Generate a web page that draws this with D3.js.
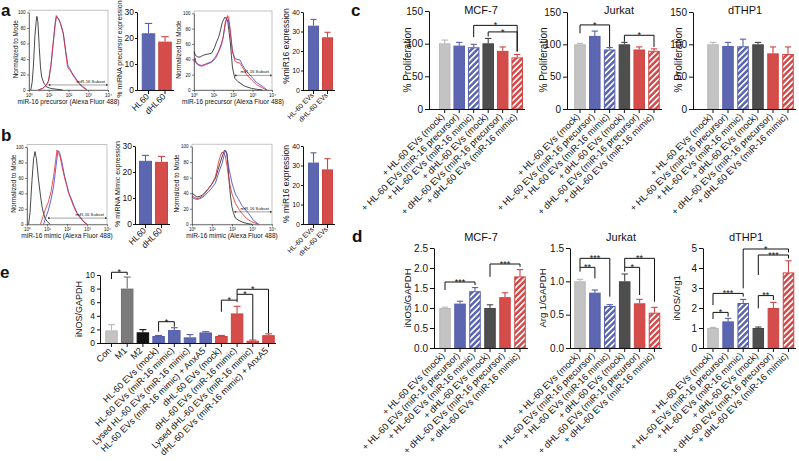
<!DOCTYPE html>
<html><head><meta charset="utf-8">
<script src="https://cdn.jsdelivr.net/npm/d3@7"></script>
<style>
body{margin:0;background:#fff}
svg{display:block}
text{font-family:"Liberation Sans",Arial,Helvetica,sans-serif;fill:#111}
</style>
</head><body>
<svg id="chart" width="799" height="461"></svg>
<script>
// ================= DATA =================
// Panel a/b flow histograms: [decade (log10 units from axis start), % of mode]
const histTickLabels = ["10⁰","10¹","10²","10³","10⁴"];
const histYTicks = [0,20,40,60,80,100];
const aPrecCtrl = [[0.09,0],[0.16,10],[0.22,30],[0.3,70],[0.36,88],[0.4,95],[0.45,88],[0.52,55],[0.58,30],[0.64,17],[0.75,9],[0.89,4],[1.1,2],[1.4,1],[1.7,0]];
const aPrecHL60 = [[0.5,0],[0.75,3],[0.9,7],[1.0,13],[1.12,33],[1.25,66],[1.33,88],[1.38,96],[1.43,94],[1.5,92],[1.6,86],[1.74,73],[1.86,50],[1.97,32],[2.08,27],[2.18,22],[2.32,17],[2.5,10],[2.7,5],[2.95,0]];
const aPrecdHL60 = [[0.45,0],[0.7,2],[0.85,6],[0.98,11],[1.1,30],[1.23,63],[1.33,85],[1.4,95],[1.45,93],[1.52,90],[1.6,85],[1.74,72],[1.85,50],[1.95,30],[2.05,26],[2.16,22],[2.3,16],[2.5,9],[2.7,4],[2.92,0]];
const aEVCtrl = [[0,50],[0.08,45],[0.2,43],[0.31,43],[0.45,45],[0.56,46],[0.75,47],[0.9,48],[1.05,55],[1.16,63],[1.25,68],[1.33,75],[1.45,88],[1.5,91],[1.59,95],[1.65,93],[1.73,90],[1.8,75],[1.85,65],[1.92,45],[1.97,30],[2.05,20],[2.1,15],[2.25,11],[2.36,9],[2.6,5],[2.96,2],[3.2,1],[3.5,0]];
const aEVHL60 = [[0,37],[0.05,42],[0.1,36],[0.25,33],[0.4,32],[0.6,34],[0.9,37],[1.1,43],[1.25,50],[1.4,60],[1.5,69],[1.6,85],[1.7,95],[1.75,93],[1.85,78],[1.97,51],[2.1,41],[2.2,40],[2.36,39],[2.5,32],[2.7,24],[2.96,17],[3.2,10],[3.5,5],[3.75,0]];
const aEVdHL60 = [[0,38],[0.05,41],[0.1,35],[0.25,32],[0.4,31],[0.6,33],[0.9,36],[1.1,41],[1.25,49],[1.4,58],[1.5,70],[1.6,88],[1.72,97],[1.78,95],[1.87,75],[1.97,50],[2.1,38],[2.2,36],[2.36,35],[2.53,28],[2.7,20],[2.96,13],[3.2,7],[3.5,3],[3.7,0]];
const bMimCtrl = [[0.08,0],[0.15,15],[0.25,57],[0.33,85],[0.4,94],[0.47,85],[0.58,57],[0.67,38],[0.75,23],[0.83,14],[0.9,8],[1.0,4],[1.15,0]];
const bMimHL60 = [[0.83,0],[0.95,10],[1.07,18],[1.2,32],[1.33,49],[1.45,75],[1.53,92],[1.58,95],[1.63,93],[1.75,80],[1.88,62],[2.0,50],[2.1,40],[2.2,34],[2.35,24],[2.5,15],[2.67,9],[2.85,3],[3.0,0]];
const bMimdHL60 = [[0.67,0],[0.8,10],[0.9,18],[1.07,29],[1.2,42],[1.33,62],[1.43,82],[1.5,96],[1.56,93],[1.65,88],[1.75,75],[1.88,60],[2.0,49],[2.08,40],[2.17,34],[2.33,23],[2.5,14],[2.67,8],[2.85,3],[3.0,0]];
const bEVCtrl = [[0,40],[0.1,38],[0.25,35],[0.4,36],[0.5,37],[0.65,41],[0.83,46],[1.0,52],[1.17,59],[1.3,70],[1.42,80],[1.52,88],[1.62,95],[1.68,94],[1.75,91],[1.8,75],[1.87,51],[1.93,35],[2.0,22],[2.08,14],[2.17,8],[2.35,5],[2.5,3],[2.75,1],[3.0,0]];
const bEVHL60 = [[0,35],[0.1,33],[0.25,32],[0.4,33],[0.6,36],[0.83,42],[1.0,47],[1.17,53],[1.33,66],[1.5,78],[1.6,88],[1.67,95],[1.72,93],[1.83,74],[1.92,63],[2.0,53],[2.17,39],[2.33,32],[2.5,24],[2.83,14],[3.08,5],[3.33,0]];
const bEVdHL60 = [[0,37],[0.1,35],[0.25,33],[0.4,34],[0.6,38],[0.83,46],[1.0,52],[1.17,61],[1.33,80],[1.42,88],[1.5,93],[1.58,91],[1.67,88],[1.75,75],[1.83,61],[1.92,48],[2.0,39],[2.17,27],[2.33,20],[2.5,14],[2.75,7],[3.0,3],[3.33,0]];
// gates: [start decade, end decade, level %]
const aPrecGate = [1.0, 4.0, 6.5];
const aEVGate = [2.1, 4.0, 19];
const bMimGate = [1.05, 4.0, 8];
const bEVGate = [2.13, 4.0, 16];

// Panel a/b bar charts
const cellCats = ["HL60","dHL60"];
const evCats = ["HL-60 EVs","dHL-60 EVs"];
const aPrecMean = [21.8, 18.6], aPrecSem = [3.8, 1.9];
const aEVMean = [33, 27], aEVSem = [3.2, 2.6];
const bMimMean = [24.3, 23.9], bMimSem = [2.1, 2.1];
const bEVMean = [31.5, 28], bEVSem = [5, 5.5];
const abTicks30 = [0,10,20,30], abTicks40 = [0,10,20,30,40];

// Panel c/d
const cdCats = ["+ HL-60 EVs (mock)","+ HL-60 EVs (miR-16 precursor)","+ HL-60 EVs (miR-16 mimic)","+ dHL-60 EVs (mock)","+ dHL-60 EVs (miR-16 precursor)","+ dHL-60 EVs (miR-16 mimic)"];
const cdStyles = ["lgrey","blue","blueH","dgrey","red","redH"];
const cMCF7Mean = [100.5, 97, 94.5, 100.5, 89, 79], cMCF7Sem = [5, 5, 4.5, 7.5, 6, 4.5];
const cJurkatMean = [100, 113, 92, 100, 92, 90], cJurkatSem = [1.5, 7.5, 3, 3, 4, 3];
const cTHP1Mean = [100, 97.5, 97, 100, 86, 85], cTHP1Sem = [3, 5.5, 11, 3, 10, 11];
const cTicks = [0,50,100,150];
// significance: [from bar, to bar, bracket level, left leg end, right leg end, label]
const cMCF7Sig = [[2,5,128,110,88,"*"],[3,5,118,111,88,"*"]];
const cJurkatSig = [[0,2,130,117,96,"*"],[3,5,114,104,96,"*"]];
const dMCF7Mean = [1.0, 1.11, 1.42, 1.0, 1.27, 1.79], dMCF7Sem = [0.02, 0.06, 0.09, 0.08, 0.11, 0.17];
const dJurkatMean = [1.0, 0.83, 0.63, 1.0, 0.67, 0.53], dJurkatSem = [0.03, 0.04, 0.02, 0.11, 0.06, 0.08];
const dTHP1Mean = [1.0, 1.33, 2.25, 1.0, 2.0, 3.78], dTHP1Sem = [0.03, 0.15, 0.18, 0.05, 0.28, 0.58];
const dMCF7Ticks = [0,0.5,1.0,1.5,2.0,2.5], dJurkatTicks = [0,0.5,1.0,1.5], dTHP1Ticks = [0,1,2,3,4,5];
const dMCF7Sig = [[0,2,1.65,1.45,1.575,"***"],[3,5,2.1,1.78,2.03,"***"]];
const dJurkatSig = [[0,2,1.345,1.21,0.77,"***"],[0,1,1.21,1.145,1.045,"**"],[3,5,1.345,1.21,0.695,"**"],[3,4,1.21,1.145,0.795,"*"]];
const dTHP1Sig = [[0,1,1.78,1.45,1.57,"*"],[0,2,2.73,2.15,2.57,"***"],[3,4,2.62,1.98,2.4,"**"],[3,5,4.65,3.65,4.48,"***"],[2,5,4.95,2.98,4.78,"*"]];

// Panel e
const eCats = ["Con","M1","M2","HL-60 EVs (mock)","HL-60 EVs (miR-16 mimic)","Lysed HL-60 EVs (miR-16 mimic)","HL-60 EVs (miR-16 mimic) + AnxA5","dHL-60 EVs (mock)","dHL-60 EVs (miR-16 mimic)","Lysed dHL-60 EVs (miR-16 mimic)","dHL-60 EVs (miR-16 mimic) + AnxA5"];
const eStyles = ["lgrey","mgrey","black","blue","blue","blue","blue","red","red","red","red"];
const eMean = [1.85, 8.0, 1.57, 1.03, 1.9, 0.83, 1.55, 1.03, 4.35, 0.34, 1.15];
const eSem = [0.85, 1.7, 0.4, 0.08, 0.35, 0.4, 0.12, 0.08, 1.05, 0.1, 0.2];
const eTicks = [0,2,4,6,8,10];
const eSig = [[0,1,10.4,9.4,10.0,"*"],[3,4,3.13,1.66,2.4,"*"],[7,8,6.3,4.6,6.0,"*"],[8,9,7.16,6.3,0.5,"*"],[8,10,7.9,7.16,1.45,"*"]];

// ================= DRAWING =================
const svg = d3.select("#chart");
const defs = svg.append("defs");
const FONT = '"Liberation Sans",Arial,Helvetica,sans-serif';

function hatch(id, color) {
  const p = defs.append("pattern").attr("id", id).attr("patternUnits", "userSpaceOnUse")
    .attr("width", 4.2).attr("height", 4.2).attr("patternTransform", "rotate(45)");
  p.append("rect").attr("width", 4.2).attr("height", 4.2).attr("fill", color);
  p.append("rect").attr("width", 1.7).attr("height", 4.2).attr("fill", "#fff");
}
hatch("hB", "#5b65b0");
hatch("hR", "#d4494a");

const STY = {
  lgrey: {fill: "#c3c3c3", stroke: "#b8b8b8", err: "#b8b8b8"},
  mgrey: {fill: "#7b7b7b", stroke: "#6f6f6f", err: "#6f6f6f"},
  black: {fill: "#141414", stroke: "#111", err: "#111"},
  blue:  {fill: "#5d67b1", stroke: "#5560aa", err: "#5560aa"},
  blueH: {fill: "url(#hB)", stroke: "#5560aa", err: "#5560aa"},
  dgrey: {fill: "#4e4e4e", stroke: "#444", err: "#444"},
  red:   {fill: "#d54d4b", stroke: "#cd4442", err: "#cd4442"},
  redH:  {fill: "url(#hR)", stroke: "#cd4442", err: "#cd4442"}
};

function txt(x, y, s, size, opts = {}) {
  const t = svg.append("text").attr("x", x).attr("y", y).attr("font-size", size)
    .attr("text-anchor", opts.anchor || "start").text(s);
  if (opts.weight) t.attr("font-weight", opts.weight);
  if (opts.rot) t.attr("transform", `rotate(${opts.rot},${x},${y})`);
  return t;
}

function barChart(cfg) {
  const L = cfg.layout, n = cfg.cats.length;
  const pad = 1 - L.barW / L.step;
  const x = d3.scaleBand().domain(cfg.cats)
    .range([L.firstCenter - L.step / 2, L.firstCenter - L.step / 2 + n * L.step])
    .paddingInner(pad).paddingOuter(pad / 2);
  const y = d3.scaleLinear().domain([0, cfg.yMax]).range([L.yBottom, L.yTop]);
  const g = svg.append("g");
  const cx = i => x(cfg.cats[i]) + x.bandwidth() / 2;
  const ew = L.ew || 1.1;
  cfg.cats.forEach((c, i) => {
    const st = STY[cfg.styles[i]];
    const v = cfg.vals[i], e = cfg.errs[i];
    const c0 = cx(i), cap = x.bandwidth() * 0.55;
    g.append("line").attr("x1", c0).attr("x2", c0).attr("y1", y(v)).attr("y2", y(v + e))
      .attr("stroke", st.err).attr("stroke-width", ew);
    g.append("line").attr("x1", c0 - cap / 2).attr("x2", c0 + cap / 2).attr("y1", y(v + e)).attr("y2", y(v + e))
      .attr("stroke", st.err).attr("stroke-width", ew);
    g.append("rect").attr("x", x(c) + 0.5).attr("y", y(v) + 0.5)
      .attr("width", x.bandwidth() - 1).attr("height", Math.max(0, y(0) - y(v) - 0.5))
      .attr("fill", st.fill).attr("stroke", st.stroke).attr("stroke-width", 1);
  });
  // y axis
  const ya = d3.axisLeft(y).tickValues(cfg.ticks).tickSize(L.tick || 4).tickSizeOuter(0)
    .tickPadding(L.tickPad !== undefined ? L.tickPad : 2).tickFormat(cfg.fmt || (d => d));
  const ag = g.append("g").attr("transform", `translate(${L.axisX},0)`).call(ya);
  ag.attr("font-size", cfg.tickFont).attr("font-family", FONT);
  ag.selectAll("line,path").attr("stroke", "#111").attr("stroke-width", 1);
  ag.selectAll("text").attr("fill", "#111");
  // x axis
  g.append("line").attr("x1", L.axisX - 0.5).attr("x2", L.axisEnd).attr("y1", L.yBottom + 0.5).attr("y2", L.yBottom + 0.5)
    .attr("stroke", "#111").attr("stroke-width", 1);
  cfg.cats.forEach((c, i) => {
    g.append("line").attr("x1", cx(i)).attr("x2", cx(i)).attr("y1", L.yBottom).attr("y2", L.yBottom + 4)
      .attr("stroke", "#111").attr("stroke-width", 1);
    const lx = cx(i) + (L.lblDx || -2), ly = L.yBottom + (L.lblDy || 6);
    g.append("text").attr("transform", `translate(${lx},${ly}) rotate(-45)`)
      .attr("text-anchor", "end").attr("dy", "0.35em").attr("font-size", cfg.labelFont).text(c);
  });
  // significance brackets
  (cfg.sig || []).forEach(([i, j, lev, lb, rb, lab]) => {
    const xi = cx(i), xj = cx(j);
    g.append("path").attr("d", `M${xi},${y(lb)}V${y(lev)}H${xj}V${y(rb)}`)
      .attr("fill", "none").attr("stroke", "#111").attr("stroke-width", 1);
    g.append("text").attr("x", (xi + xj) / 2).attr("y", y(lev) + 2.8).attr("text-anchor", "middle")
      .attr("font-size", 9).text(lab);
  });
  if (cfg.title) txt(cfg.title[1], cfg.title[2], cfg.title[0], cfg.title[3], {anchor: "middle"});
  if (cfg.ylabel) txt(cfg.ylabel[1], cfg.ylabel[2], cfg.ylabel[0], cfg.ylabel[3], {anchor: "middle", rot: -90});
}

function hist(cfg) {
  const L = cfg.layout;
  const x = d3.scaleLinear().domain([0, 4]).range([L.x0, L.x1]);
  const y = d3.scaleLinear().domain([0, 100]).range([L.y0, L.y100]);
  const g = svg.append("g");
  g.append("rect").attr("x", L.x0).attr("y", y(103)).attr("width", L.x1 - L.x0).attr("height", L.y0 - y(103))
    .attr("fill", "none").attr("stroke", "#a8a8a8").attr("stroke-width", 0.7);
  const ya = d3.axisLeft(y).tickValues(histYTicks).tickSize(2).tickPadding(1.5).tickSizeOuter(0);
  const ag = g.append("g").attr("transform", `translate(${L.x0},0)`).call(ya);
  ag.attr("font-size", 4.5).attr("font-family", FONT);
  ag.selectAll("line,path").attr("stroke", "#333").attr("stroke-width", 0.6);
  ag.selectAll("text").attr("fill", "#333");
  const xa = d3.axisBottom(x).tickValues([0, 1, 2, 3, 4]).tickSize(2).tickPadding(1.5).tickSizeOuter(0)
    .tickFormat((d, i) => histTickLabels[i]);
  const xg = g.append("g").attr("transform", `translate(0,${L.y0})`).call(xa);
  xg.attr("font-size", 4.5).attr("font-family", FONT);
  xg.selectAll("line,path").attr("stroke", "#333").attr("stroke-width", 0.6);
  xg.selectAll("text").attr("fill", "#333");
  const line = d3.line().x(d => x(d[0])).y(d => y(d[1]));
  const cols = ["#1a1a1a", "#3b3bd0", "#e0262a"];
  cfg.curves.forEach((c, k) => {
    g.append("path").attr("d", line(c)).attr("fill", "none").attr("stroke", cols[k]).attr("stroke-width", 0.8);
  });
  const [g0, g1, gv] = cfg.gate;
  g.append("line").attr("x1", x(g0)).attr("x2", x(g1) - 1).attr("y1", y(gv)).attr("y2", y(gv))
    .attr("stroke", "#444").attr("stroke-width", 0.5);
  [g0, g1].forEach(d => g.append("rect").attr("x", x(d) - (d === g1 ? 2 : 0)).attr("y", y(gv) - 0.8)
    .attr("width", 1.6).attr("height", 1.6).attr("fill", "#333"));
  g.append("text").attr("x", x(g1) - 3).attr("y", y(gv) - 2).attr("text-anchor", "end")
    .attr("font-size", 4.3).attr("fill", "#222").text("miR-16 Subset");
  txt(L.x0 - L.ylx, (L.y0 + L.y100) / 2 - 2, "Normalized to Mode", 6.5, {anchor: "middle", rot: -90});
  txt((L.x0 + L.x1) / 2, L.y0 + 14, cfg.xlabel, 6.5, {anchor: "middle"});
}

// ---------- panel letters ----------
txt(1, 15.5, "a", 17, {weight: "bold"});
txt(1, 141, "b", 17, {weight: "bold"});
txt(351, 16, "c", 17, {weight: "bold"});
txt(352, 242, "d", 17, {weight: "bold"});
txt(0, 278, "e", 17, {weight: "bold"});

// ---------- panel a ----------
hist({layout: {x0: 29, x1: 108, y0: 90, y100: 12.5, ylx: 11}, curves: [aPrecCtrl, aPrecHL60, aPrecdHL60],
  gate: aPrecGate, xlabel: "miR-16 precursor (Alexa Fluor 488)"});
hist({layout: {x0: 194, x1: 272, y0: 90, y100: 13.3, ylx: 12.5}, curves: [aEVCtrl, aEVHL60, aEVdHL60],
  gate: aEVGate, xlabel: "miR-16 precursor (Alexa Fluor 488)"});
barChart({cats: cellCats, styles: ["blue", "red"], vals: aPrecMean, errs: aPrecSem, yMax: 30, ticks: abTicks30,
  layout: {axisX: 137, firstCenter: 148.5, step: 16.5, barW: 13.5, axisEnd: 174, yBottom: 90, yTop: 12, tick: 2, tickPad: 1, lblDx: -1, lblDy: 5},
  tickFont: 8.5, labelFont: 8.5, ylabel: ["% miRNA precursor expression", 122, 49, 7]});
barChart({cats: evCats, styles: ["blue", "red"], vals: aEVMean, errs: aEVSem, yMax: 40, ticks: abTicks40,
  layout: {axisX: 303, firstCenter: 313.5, step: 14, barW: 11, axisEnd: 335, yBottom: 90, yTop: 12, tick: 2, tickPad: 1, lblDx: -1, lblDy: 4},
  tickFont: 7, labelFont: 7, ylabel: ["%miR16 expression", 289, 46, 8.5]});

// ---------- panel b ----------
hist({layout: {x0: 27, x1: 107, y0: 224.3, y100: 147, ylx: 11}, curves: [bMimCtrl, bMimHL60, bMimdHL60],
  gate: bMimGate, xlabel: "miR-16 mimic (Alexa Fluor 488)"});
hist({layout: {x0: 192, x1: 272, y0: 224.3, y100: 146.5, ylx: 12.5}, curves: [bEVCtrl, bEVHL60, bEVdHL60],
  gate: bEVGate, xlabel: "miR-16 mimic (Alexa Fluor 488)"});
barChart({cats: cellCats, styles: ["blue", "red"], vals: bMimMean, errs: bMimSem, yMax: 30, ticks: abTicks30,
  layout: {axisX: 135, firstCenter: 145.5, step: 16, barW: 13, axisEnd: 170, yBottom: 224, yTop: 146, tick: 2, tickPad: 1, lblDx: -1, lblDy: 5},
  tickFont: 8.5, labelFont: 8.5, ylabel: ["% miRNA Mimic expression", 120, 184, 7]});
barChart({cats: evCats, styles: ["blue", "red"], vals: bEVMean, errs: bEVSem, yMax: 40, ticks: abTicks40,
  layout: {axisX: 303, firstCenter: 313.5, step: 14, barW: 11, axisEnd: 335, yBottom: 224, yTop: 146, tick: 2, tickPad: 1, lblDx: -1, lblDy: 4},
  tickFont: 7, labelFont: 7, ylabel: ["% miR16 expression", 289, 184, 8.5]});

// ---------- panel c ----------
barChart({cats: cdCats, styles: cdStyles, vals: cMCF7Mean, errs: cMCF7Sem, yMax: 150, ticks: cTicks, sig: cMCF7Sig,
  layout: {axisX: 429, firstCenter: 444.7, step: 14.5, barW: 11.5, axisEnd: 525, yBottom: 109, yTop: 11},
  tickFont: 10, labelFont: 9.3, title: ["MCF-7", 481, 14, 11], ylabel: ["% Proliferation", 411, 60, 10]});
barChart({cats: cdCats, styles: cdStyles, vals: cJurkatMean, errs: cJurkatSem, yMax: 150, ticks: cTicks, sig: cJurkatSig,
  layout: {axisX: 567, firstCenter: 580, step: 14.8, barW: 11.5, axisEnd: 662, yBottom: 109, yTop: 12},
  tickFont: 10, labelFont: 9.3, title: ["Jurkat", 619, 14, 11], ylabel: ["% Proliferation", 547, 60, 10]});
barChart({cats: cdCats, styles: cdStyles, vals: cTHP1Mean, errs: cTHP1Sem, yMax: 150, ticks: cTicks,
  layout: {axisX: 693, firstCenter: 713, step: 15, barW: 11.5, axisEnd: 796, yBottom: 109, yTop: 12},
  tickFont: 10, labelFont: 9.3, title: ["dTHP1", 745, 14, 11], ylabel: ["% Proliferation", 682, 60, 10]});

// ---------- panel d ----------
barChart({cats: cdCats, styles: cdStyles, vals: dMCF7Mean, errs: dMCF7Sem, yMax: 2.5, ticks: dMCF7Ticks, sig: dMCF7Sig,
  fmt: d3.format(".1f"),
  layout: {axisX: 434, firstCenter: 445, step: 15, barW: 11.5, axisEnd: 528, yBottom: 348, yTop: 248},
  tickFont: 10, labelFont: 9.3, title: ["MCF-7", 481, 241, 11], ylabel: ["iNOS/GAPDH", 411, 298, 9.5]});
barChart({cats: cdCats, styles: cdStyles, vals: dJurkatMean, errs: dJurkatSem, yMax: 1.5, ticks: dJurkatTicks, sig: dJurkatSig,
  fmt: d3.format(".1f"),
  layout: {axisX: 570, firstCenter: 580, step: 14.9, barW: 11.5, axisEnd: 662, yBottom: 348, yTop: 248},
  tickFont: 10, labelFont: 9.3, title: ["Jurkat", 621, 241, 11], ylabel: ["Arg 1/GAPDH", 546, 298, 9.5]});
barChart({cats: cdCats, styles: cdStyles, vals: dTHP1Mean, errs: dTHP1Sem, yMax: 5, ticks: dTHP1Ticks, sig: dTHP1Sig,
  layout: {axisX: 703, firstCenter: 713, step: 15.1, barW: 11.5, axisEnd: 796, yBottom: 348, yTop: 248},
  tickFont: 10, labelFont: 9.3, title: ["dTHP1", 746, 241, 11], ylabel: ["iNOS/Arg1", 680, 298, 9.5]});

// ---------- panel e ----------
barChart({cats: eCats, styles: eStyles, vals: eMean, errs: eSem, yMax: 10, ticks: eTicks, sig: eSig,
  layout: {axisX: 100, firstCenter: 111.5, step: 15.7, barW: 12.5, axisEnd: 276, yBottom: 343, yTop: 275, tick: 3},
  tickFont: 8.5, labelFont: 9, ylabel: ["iNOS/GAPDH", 82, 309, 9]});
</script>
</body></html>
